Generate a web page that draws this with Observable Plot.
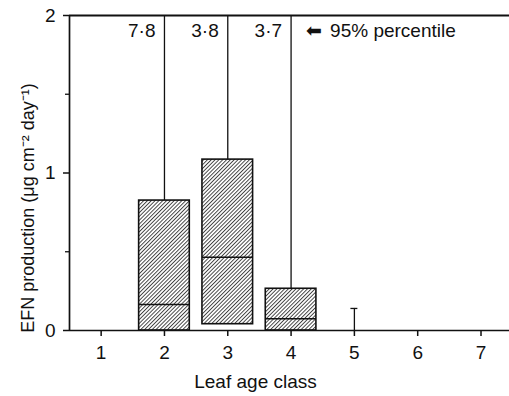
<!DOCTYPE html>
<html>
<head>
<meta charset="utf-8">
<script src="https://cdn.jsdelivr.net/npm/d3@7"></script>
<script src="https://cdn.jsdelivr.net/npm/@observablehq/plot@0.6"></script>
<style>
  html, body { margin: 0; padding: 0; background: #fff; }
  svg { display: block; }
</style>
</head>
<body>
<div id="chart"></div>
<script>
// Leaf age classes and box statistics (EFN production, µg cm^-2 day^-1)
const classes = [1, 2, 3, 4, 5, 6, 7];
const q1      = [0, 0,     0.04,  0,     0,    0, 0];
const median  = [0, 0.165, 0.465, 0.075, 0,    0, 0];
const q3      = [0, 0.825, 1.085, 0.265, 0,    0, 0];
const p95     = [0, 7.8,   3.8,   3.7,   0.14, 0, 0];

const yMajorTicks = [0, 1, 2];
const yMinorTicks = [0.5, 1.5];
const xTicks = [1, 2, 3, 4, 5, 6, 7];
const yMax = 2;
const noteArrow = "\u2B05";
const noteText = "95% percentile";
const xLabel = "Leaf age class";
const yLabel = "EFN production (\u03bcg cm\u207b\u00b2 day\u207b\u00b9)";

const data = classes.map((c, i) => ({cls: c, q1: q1[i], median: median[i], q3: q3[i], p95: p95[i]}));
const boxes = data.filter(d => d.q3 > d.q1);
const whiskers = data.filter(d => d.p95 > d.q3);
const offScale = whiskers.filter(d => d.p95 > yMax);
const capped = whiskers.filter(d => d.p95 <= yMax);
const lastOff = offScale[offScale.length - 1].cls;
const half = 0.4, capHalf = 0.055;
const fmt = v => String(v.toFixed(1)).replace(".", "\u00b7");

const font = "'Liberation Sans', Arial, Helvetica, sans-serif";
const fs = 19;

const plot = Plot.plot({
  width: 509,
  height: 396,
  marginLeft: 69,
  marginRight: 0,
  marginTop: 15,
  marginBottom: 66,
  style: {fontFamily: font, fontSize: "19px", color: "#111", background: "#fff"},
  x: {domain: [0.5, 7.45], axis: null},
  y: {domain: [0, yMax], axis: null},
  marks: [
    // boxes with hatch
    Plot.rect(boxes, {x1: d => d.cls - half, x2: d => d.cls + half, y1: "q1", y2: "q3",
      fill: "url(#hatch)", stroke: "#111", strokeWidth: 1.6}),
    Plot.ruleY(boxes, {y: "median", x1: d => d.cls - half, x2: d => d.cls + half, stroke: "#111", strokeWidth: 1.6}),
    // whiskers to 95th percentile
    Plot.ruleX(whiskers, {x: "cls", y1: "q3", y2: "p95", stroke: "#111", strokeWidth: 1.3, clip: true}),
    Plot.ruleY(capped, {y: "p95", x1: d => d.cls - capHalf, x2: d => d.cls + capHalf, stroke: "#111", strokeWidth: 1.3}),
    // off-scale labels
    Plot.text(offScale, {x: "cls", y: () => yMax, text: d => fmt(d.p95), textAnchor: "end", dx: -9, dy: 15,
      lineAnchor: "middle", fill: "#111", fontSize: fs}),
    Plot.text([noteArrow], {x: () => lastOff, y: () => yMax, text: d => d, fontFamily: "DejaVu Sans",
      textAnchor: "start", dx: 15, dy: 15, lineAnchor: "middle", fill: "#111", fontSize: 19}),
    Plot.text([noteText], {x: () => lastOff, y: () => yMax, text: d => d,
      textAnchor: "start", dx: 39, dy: 15, lineAnchor: "middle", fill: "#111", fontSize: fs}),
    // frame lines
    Plot.ruleX([0.5], {stroke: "#111", strokeWidth: 1.7}),
    Plot.ruleY([0], {stroke: "#111", strokeWidth: 1.7}),
    Plot.ruleY([yMax], {stroke: "#111", strokeWidth: 2}),
    // axes
    Plot.axisY(yMajorTicks, {tickSize: 6, tickPadding: 8, tickFormat: d => String(d), label: null, strokeWidth: 1.5, fontSize: fs}),
    Plot.axisY(yMinorTicks, {tickSize: 4, tickFormat: () => "", label: null, strokeWidth: 1.3}),
    Plot.axisX(xTicks, {tickSize: 6, tickPadding: 9, tickFormat: d => String(d), label: null, strokeWidth: 1.5, fontSize: fs}),
    // axis titles
    Plot.text([xLabel], {frameAnchor: "bottom", text: d => d, dx: -34, dy: 51, textAnchor: "middle",
      lineAnchor: "middle", fill: "#111", fontSize: fs}),
    Plot.text([yLabel], {frameAnchor: "left", text: d => d, rotate: -90, dx: -41, dy: 35, textAnchor: "middle",
      lineAnchor: "middle", fill: "#111", fontSize: 18})
  ]
});

// hatch pattern definition
const svg = d3.select(plot);
const defs = svg.insert("defs", ":first-child");
const pat = defs.append("pattern")
  .attr("id", "hatch")
  .attr("patternUnits", "userSpaceOnUse")
  .attr("width", 2.7)
  .attr("height", 2.7)
  .attr("patternTransform", "rotate(45)");
pat.append("rect").attr("width", 2.7).attr("height", 2.7).attr("fill", "#fff");
pat.append("line").attr("x1", 0.5).attr("y1", 0).attr("x2", 0.5).attr("y2", 2.7)
  .attr("stroke", "#333").attr("stroke-width", 0.9);

document.getElementById("chart").appendChild(plot);
</script>
</body>
</html>
